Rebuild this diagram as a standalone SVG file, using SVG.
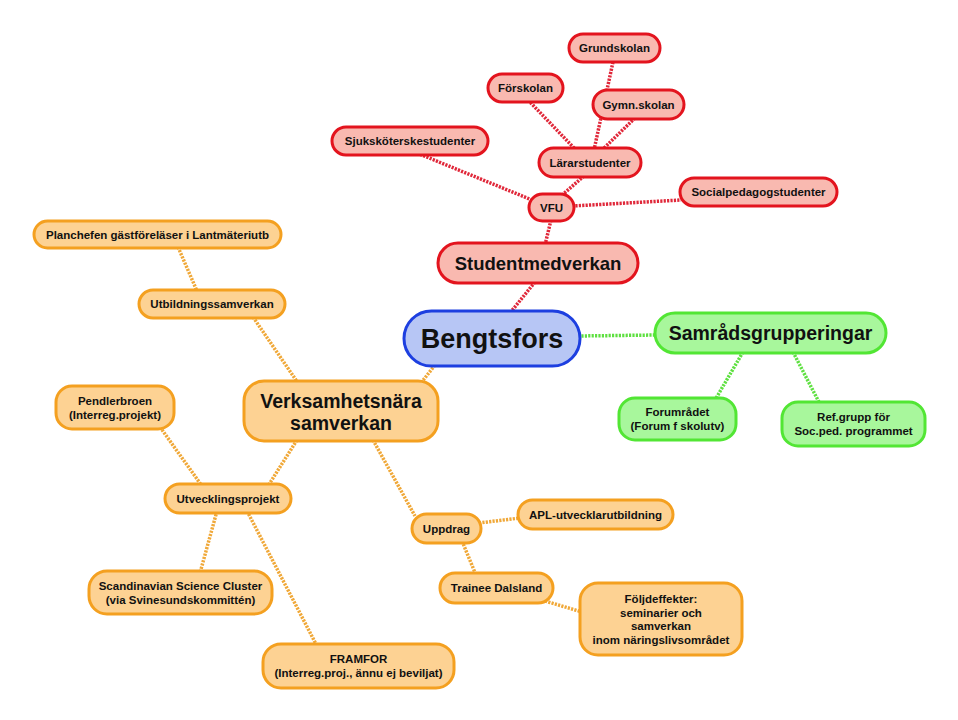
<svg xmlns="http://www.w3.org/2000/svg" width="958" height="720" viewBox="0 0 958 720">
<style>
text{font-family:"Liberation Sans",Arial,sans-serif;font-weight:bold;fill:#111;text-anchor:middle}
.s{font-size:11.5px}
.r rect{fill:#f9b9b0;stroke:#e3141e;stroke-width:3}
.o rect{fill:#fdd293;stroke:#f4a020;stroke-width:3}
.g rect{fill:#a8f79c;stroke:#52e634;stroke-width:3}
.b rect{fill:#b7c6f5;stroke:#1d3fe0;stroke-width:3}
.c line{stroke-width:3.5;stroke-dasharray:2.2 1.2;fill:none}
.cr{stroke:#e0283a}
.co{stroke:#f0a838}
.cg{stroke:#5ee040}
</style>
<rect width="958" height="720" fill="#fff"/>
<g id="connectors" class="c">
<line class="cr" x1="613" y1="62" x2="594" y2="150"/>
<line class="cr" x1="635" y1="118" x2="602" y2="150"/>
<line class="cr" x1="528" y1="100" x2="576" y2="150"/>
<line class="cr" x1="584" y1="176" x2="561" y2="196"/>
<line class="cr" x1="417" y1="153" x2="532" y2="200"/>
<line class="cr" x1="572" y1="206" x2="681" y2="200"/>
<line class="cr" x1="551" y1="220" x2="545" y2="245"/>
<line class="cr" x1="535" y1="282" x2="510" y2="313"/>
<line class="cg" x1="578" y1="336" x2="657" y2="335"/>
<line class="cg" x1="743" y1="352" x2="715" y2="400"/>
<line class="cg" x1="793" y1="352" x2="820" y2="404"/>
<line class="co" x1="435" y1="365" x2="421" y2="383"/>
<line class="co" x1="178" y1="247" x2="197" y2="291"/>
<line class="co" x1="253" y1="317" x2="298" y2="383"/>
<line class="co" x1="160" y1="427" x2="202" y2="486"/>
<line class="co" x1="297" y1="440" x2="268" y2="486"/>
<line class="co" x1="373" y1="440" x2="415" y2="516"/>
<line class="co" x1="217" y1="511" x2="200" y2="573"/>
<line class="co" x1="247" y1="511" x2="317" y2="646"/>
<line class="co" x1="479" y1="523" x2="520" y2="518"/>
<line class="co" x1="462" y1="541" x2="476" y2="575"/>
<line class="co" x1="545" y1="601" x2="582" y2="612"/>
</g>
<g id="grundskolan" class="r"><rect x="569" y="34" width="91" height="28" rx="14"/><text class="s" x="614.5" y="52">Grundskolan</text></g>
<g id="forskolan" class="r"><rect x="488" y="74" width="75" height="28" rx="14"/><text class="s" x="525.5" y="92">Förskolan</text></g>
<g id="gymnskolan" class="r"><rect x="593" y="90" width="91" height="29" rx="14.5"/><text class="s" x="638.5" y="108.5">Gymn.skolan</text></g>
<g id="sjukskoterskestudenter" class="r"><rect x="332" y="127" width="156" height="28" rx="14"/><text class="s" x="410" y="145">Sjuksköterskestudenter</text></g>
<g id="lararstudenter" class="r"><rect x="539" y="148" width="102" height="29" rx="14.5"/><text class="s" x="590" y="166.5">Lärarstudenter</text></g>
<g id="socialpedagogstudenter" class="r"><rect x="680" y="178" width="157" height="28" rx="14"/><text class="s" x="758.5" y="196">Socialpedagogstudenter</text></g>
<g id="vfu" class="r"><rect x="529" y="194" width="45" height="27" rx="13.5"/><text class="s" x="551.5" y="211.5">VFU</text></g>
<g id="studentmedverkan" class="r"><rect x="438" y="243" width="200" height="40" rx="20"/><text x="538" y="269.5" style="font-size:18.5px">Studentmedverkan</text></g>
<g id="bengtsfors" class="b"><rect x="404" y="311" width="176" height="55" rx="27.5"/><text x="492" y="348" style="font-size:27px">Bengtsfors</text></g>
<g id="samradsgrupperingar" class="g"><rect x="655" y="313" width="231" height="40" rx="20"/><text x="770.5" y="340" style="font-size:19.5px">Samrådsgrupperingar</text></g>
<g id="forumradet" class="g"><rect x="619" y="398" width="117" height="42" rx="16"/><text class="s" x="677.5" y="416">Forumrådet</text><text class="s" x="677.5" y="430">(Forum f skolutv)</text></g>
<g id="refgrupp" class="g"><rect x="782" y="402" width="143" height="44" rx="16"/><text class="s" x="853.5" y="421">Ref.grupp för</text><text class="s" x="853.5" y="435">Soc.ped. programmet</text></g>
<g id="planchefen" class="o"><rect x="34" y="221" width="247" height="27" rx="13.5"/><text class="s" x="157.5" y="238.5">Planchefen gästföreläser i Lantmäteriutb</text></g>
<g id="utbildningssamverkan" class="o"><rect x="139" y="290" width="146" height="28" rx="14"/><text class="s" x="212" y="308">Utbildningssamverkan</text></g>
<g id="pendlerbroen" class="o"><rect x="56" y="386" width="118" height="43" rx="16"/><text class="s" x="115" y="404.5">Pendlerbroen</text><text class="s" x="115" y="418.5">(Interreg.projekt)</text></g>
<g id="verksamhetsnara" class="o"><rect x="244" y="381" width="194" height="60" rx="20"/><text x="341" y="408" style="font-size:19.5px">Verksamhetsnära</text><text x="341" y="430" style="font-size:19.5px">samverkan</text></g>
<g id="utvecklingsprojekt" class="o"><rect x="165" y="484" width="126" height="29" rx="14.5"/><text class="s" x="228" y="502.5">Utvecklingsprojekt</text></g>
<g id="scandinavian" class="o"><rect x="89" y="571" width="183" height="43" rx="18"/><text class="s" x="180.5" y="590">Scandinavian Science Cluster</text><text class="s" x="180.5" y="604">(via Svinesundskommittén)</text></g>
<g id="framfor" class="o"><rect x="263" y="644" width="191" height="44" rx="18"/><text class="s" x="358.5" y="663">FRAMFOR</text><text class="s" x="358.5" y="677">(Interreg.proj., ännu ej beviljat)</text></g>
<g id="uppdrag" class="o"><rect x="412" y="514" width="69" height="29" rx="14.5"/><text class="s" x="446.5" y="532.5">Uppdrag</text></g>
<g id="apl" class="o"><rect x="518" y="500" width="155" height="29" rx="14.5"/><text class="s" x="595.5" y="518.5">APL-utvecklarutbildning</text></g>
<g id="trainee" class="o"><rect x="440" y="573" width="113" height="30" rx="15"/><text class="s" x="496.5" y="592">Trainee Dalsland</text></g>
<g id="foljdeffekter" class="o"><rect x="580" y="583" width="162" height="72" rx="18"/><text class="s" x="661" y="603">Följdeffekter:</text><text class="s" x="661" y="616.5">seminarier och</text><text class="s" x="661" y="630">samverkan</text><text class="s" x="661" y="644">inom näringslivsområdet</text></g>
</svg>
